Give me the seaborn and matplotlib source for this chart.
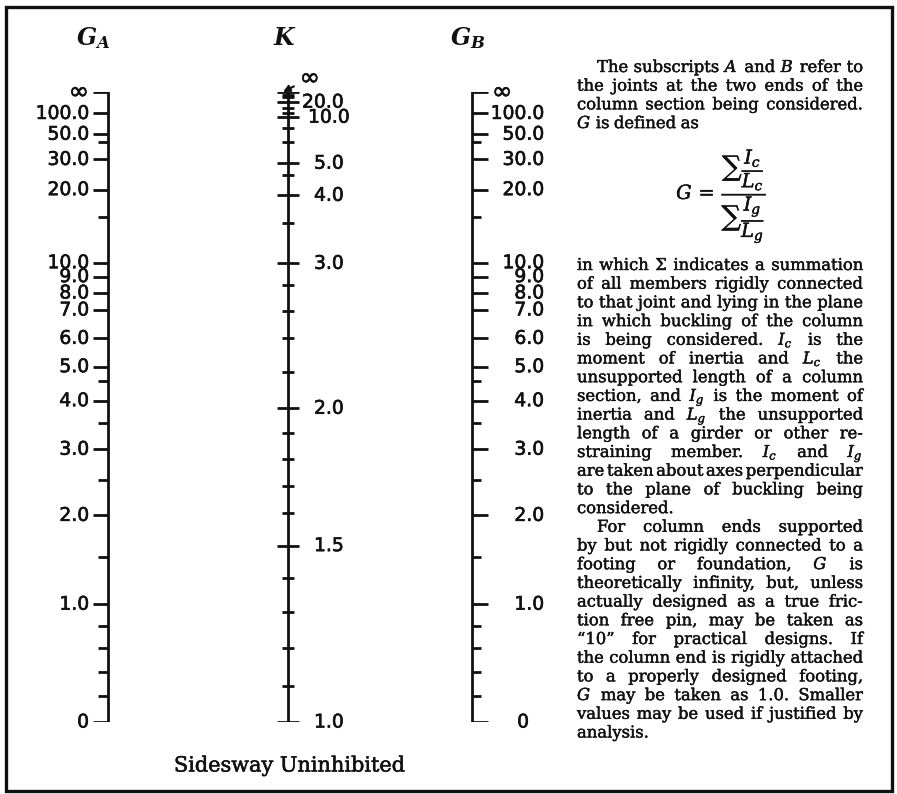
import matplotlib
matplotlib.use("Agg")
import matplotlib.pyplot as plt
from matplotlib.patches import Rectangle
import matplotlib.patheffects as pe
import seaborn as sns
import pandas as pd
import numpy as np

# ---------------- data ----------------
# G scale (same for G_A and G_B): value, position along scale (0 = G=0, 1 = G=inf)
g_values = [np.inf, 100, 50, 40, 30, 20, 15, 10, 9, 8, 7, 6, 5, 4.5, 4, 3.5, 3, 2.5, 2, 1.5, 1, 0.8, 0.6, 0.4, 0.2, 0]
g_scale = [1.000, 0.966, 0.933, 0.920, 0.893, 0.845, 0.801, 0.729, 0.707, 0.681, 0.654, 0.609, 0.564,
           0.541, 0.510, 0.475, 0.433, 0.384, 0.328, 0.262, 0.187, 0.153, 0.117, 0.079, 0.042, 0.000]
g_labels = ["∞", "100.0", "50.0", "", "30.0", "20.0", "", "10.0", "9.0", "8.0", "7.0", "6.0", "5.0", "",
            "4.0", "", "3.0", "", "2.0", "", "1.0", "", "", "", "", "0"]

# K scale: value, position along scale (0 = K=1.0, 1 = K=inf)
k_values = [np.inf, 50, 30, 20, 15, 12, 10, 8, 6, 5, 4.5, 4, 3.5, 3, 2.8, 2.6, 2.4, 2.2, 2.0,
            1.9, 1.8, 1.7, 1.6, 1.5, 1.4, 1.3, 1.2, 1.1, 1.0]
k_scale = [1.000, 0.996, 0.992, 0.984, 0.974, 0.967, 0.960, 0.943, 0.921, 0.887, 0.868, 0.836, 0.792,
           0.728, 0.693, 0.653, 0.609, 0.555, 0.498, 0.459, 0.418, 0.375, 0.331, 0.280, 0.229, 0.175,
           0.118, 0.057, 0.000]
k_labels = ["∞", "", "", "20.0", "", "", "10.0", "", "", "5.0", "", "4.0", "", "3.0", "", "", "", "",
            "2.0", "", "", "", "", "1.5", "", "", "", "", "1.0"]

title = "Sidesway Uninhibited"

para1 = ["The subscripts $A$ and $B$ refer to",
         "the joints at the two ends of the",
         "column section being considered.",
         "$G$ is defined as"]
formula = r"$G\,=\,\dfrac{\sum\dfrac{I_c}{L_c}}{\sum\dfrac{I_g}{L_g}}$"
para2 = ["in which Σ indicates a summation",
         "of all members rigidly connected",
         "to that joint and lying in the plane",
         "in which buckling of the column",
         "is being considered. $I_c$ is the",
         "moment of inertia and $L_c$ the",
         "unsupported length of a column",
         "section, and $I_g$ is the moment of",
         "inertia and $L_g$ the unsupported",
         "length of a girder or other re-",
         "straining member. $I_c$ and $I_g$",
         "are taken about axes perpendicular",
         "to the plane of buckling being",
         "considered."]
para3 = ["For column ends supported",
         "by but not rigidly connected to a",
         "footing or foundation, $G$ is",
         "theoretically infinity, but, unless",
         "actually designed as a true fric-",
         "tion free pin, may be taken as",
         "“10” for practical designs. If",
         "the column end is rigidly attached",
         "to a properly designed footing,",
         "$G$ may be taken as 1.0. Smaller",
         "values may be used if justified by",
         "analysis."]

# ---------------- style ----------------
sns.set_theme(style="white")
plt.rcParams["font.family"] = ["DejaVu Sans"]
plt.rcParams["mathtext.fontset"] = "dejavuserif"
INK = "#111111"
NUM_FS = 13.5
SERIF = "DejaVu Serif"
THICK = [pe.withStroke(linewidth=0.45, foreground=INK)]

W, H = 897, 794
fig = plt.figure(figsize=(W / 100, H / 100), dpi=100)
fig.patch.set_facecolor("white")

# page axes in pixel units
axp = fig.add_axes([0, 0, 1, 1])
axp.set_xlim(0, W)
axp.set_ylim(H, 0)
axp.axis("off")

# nomograph axes: y = position along the scales
top_px, bot_px = 92, 722
ax = fig.add_axes([0, 1 - bot_px / H, 560 / W, (bot_px - top_px) / H])
ax.set_xlim(0, 560)
ax.set_ylim(0, 1)
ax.axis("off")
ax.patch.set_alpha(0)

g_df = pd.DataFrame({"value": g_values, "pos": g_scale, "label": g_labels})
g_df["major"] = g_df["label"] != ""
k_df = pd.DataFrame({"value": k_values, "pos": k_scale, "label": k_labels})
k_df["major"] = k_df["label"] != ""

LW = 2.0


def spine(x, df):
    sns.lineplot(x=[x, x], y=[df["pos"].min(), df["pos"].max()], ax=ax, color=INK, lw=LW,
                 estimator=None, sort=False, legend=False)


def num(x, y, s, ha, fs=NUM_FS):
    ax.text(x, y, s, ha=ha, va="center", fontsize=fs, color=INK, path_effects=THICK)


# ---- G_A scale (ticks to the left) ----
xa = 108
spine(xa, g_df)
for _, r in g_df.iterrows():
    ln = 15 if r["major"] else 10
    ax.hlines(r["pos"], xa - ln, xa, color=INK, lw=LW)
    if r["label"]:
        fs = NUM_FS + 4 if r["label"] == "∞" else NUM_FS
        num(xa - 19, r["pos"], r["label"], "right", fs)

# ---- G_B scale (ticks to the right) ----
xb = 472
spine(xb, g_df)
for _, r in g_df.iterrows():
    ln = 16 if r["major"] else 9
    ax.hlines(r["pos"], xb, xb + ln, color=INK, lw=LW)
    if r["label"]:
        if r["label"] == "∞":
            num(xb + 20, r["pos"], r["label"], "left", NUM_FS + 4)
        elif "." not in r["label"]:
            num(xb + 57, r["pos"], r["label"], "right")
        else:
            num(xb + 72, r["pos"], r["label"], "right")

# ---- K scale (ticks across) ----
xk = 288
spine(xk, k_df)
for _, r in k_df.iterrows():
    ln = 11 if r["major"] else 6
    ax.hlines(r["pos"], xk - ln, xk + ln, color=INK, lw=LW)
    lab = r["label"]
    if not lab:
        continue
    if lab == "∞":
        ax.annotate(lab, xy=(xk - 5, r["pos"]), xytext=(12, 10), textcoords="offset points",
                    ha="left", va="center", fontsize=NUM_FS + 4, color=INK, path_effects=THICK,
                    arrowprops=dict(arrowstyle="-|>", color=INK, lw=1.5, mutation_scale=10,
                                    shrinkA=2, shrinkB=0))
    elif np.isfinite(r["value"]) and r["value"] >= 20:
        num(xk + 14, r["pos"], lab, "left")
    elif np.isfinite(r["value"]) and r["value"] >= 10:
        num(xk + 20, r["pos"], lab, "left")
    else:
        num(xk + 26, r["pos"], lab, "left")

# ---- headers and title ----
renderer = fig.canvas.get_renderer()


def header(x, s_bold, s_plain):
    t = axp.text(x, 38, s_bold, fontsize=17, ha="center", va="center", color=INK)
    try:
        t.get_window_extent(renderer)
    except Exception:
        t.set_text(s_plain)


header(93, r"$\mathbfit{G}_{\mathbfit{A}}$", r"$G_A$")
header(285, r"$\mathbfit{K}$", r"$K$")
header(468, r"$\mathbfit{G}_{\mathbfit{B}}$", r"$G_B$")
axp.text(290, 766, title, family=SERIF, fontsize=15, ha="center", va="center", color=INK,
         path_effects=[pe.withStroke(linewidth=0.4, foreground=INK)])

# ---- border ----
axp.add_patch(Rectangle((6, 7), 886, 784, fill=False, lw=2.4, edgecolor=INK))

# ---- justified text block ----
text_left, text_right, indent = 577, 863, 20
line_h = 18.7
TFS = 11.8
MIN_GAP = 0.16
SOFT = [pe.withStroke(linewidth=0.3, foreground=INK)]


def width_of(s, fs):
    t = axp.text(0, 0, s, family=SERIF, fontsize=fs)
    w = t.get_window_extent(renderer).width
    t.remove()
    return w


def set_paragraph(lines, y0, indent_first):
    for i, line in enumerate(lines):
        y = y0 + i * line_h
        words = line.split()
        xs = text_left + (indent if (i == 0 and indent_first) else 0)
        avail = text_right - xs
        last = i == len(lines) - 1
        fs = TFS
        widths = [width_of(w, fs) for w in words]
        if not last and len(words) > 1:
            need = sum(widths) + (len(words) - 1) * MIN_GAP * fs * 100 / 72
            if need > avail:
                fs = fs * avail / need
                widths = [width_of(w, fs) for w in words]
        space_w = 0.27 * fs * 100 / 72
        gap = space_w if (last or len(words) < 2) else (avail - sum(widths)) / (len(words) - 1)
        x = xs
        for w, wd in zip(words, widths):
            axp.text(x, y, w, family=SERIF, fontsize=fs, ha="left", va="baseline", color=INK,
                     path_effects=SOFT)
            x += wd + gap


set_paragraph(para1, 72, True)
axp.text(722, 196, formula, fontsize=14, ha="center", va="center", color=INK,
         path_effects=SOFT)
set_paragraph(para2, 270, False)
set_paragraph(para3, 270 + len(para2) * line_h, True)

fig.savefig("out.png", dpi=100, facecolor="white")
